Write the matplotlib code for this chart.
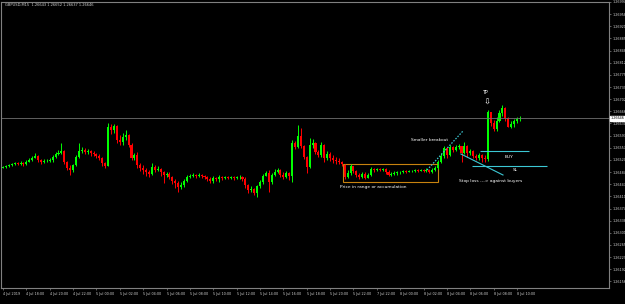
import matplotlib
matplotlib.use("Agg")
import matplotlib.pyplot as plt
from matplotlib.patches import Rectangle
from matplotlib.transforms import blended_transform_factory
import numpy as np

# GBPUSD M15 candles (prices)
first_open = 1.26496
close = [
    1.26499, 1.26502, 1.26505, 1.26508, 1.26511, 1.26508, 1.26511, 1.26508, 1.26514, 1.26520,
    1.26526, 1.26532, 1.26520, 1.26514, 1.26517, 1.26517, 1.26520, 1.26529, 1.26538, 1.26541,
    1.26547, 1.26514, 1.26496, 1.26490, 1.26505, 1.26529, 1.26547, 1.26550, 1.26544, 1.26547,
    1.26541, 1.26538, 1.26532, 1.26526, 1.26511, 1.26502, 1.26619, 1.26610, 1.26622, 1.26580,
    1.26574, 1.26589, 1.26595, 1.26565, 1.26526, 1.26535, 1.26505, 1.26496, 1.26490, 1.26484,
    1.26478, 1.26499, 1.26490, 1.26493, 1.26484, 1.26475, 1.26478, 1.26469, 1.26457, 1.26451,
    1.26439, 1.26445, 1.26457, 1.26469, 1.26472, 1.26475, 1.26472, 1.26475, 1.26472, 1.26469,
    1.26463, 1.26457, 1.26466, 1.26463, 1.26469, 1.26466, 1.26469, 1.26466, 1.26469, 1.26466,
    1.26469, 1.26469, 1.26463, 1.26445, 1.26430, 1.26433, 1.26421, 1.26442, 1.26454, 1.26472,
    1.26481, 1.26454, 1.26475, 1.26484, 1.26490, 1.26475, 1.26469, 1.26481, 1.26472, 1.26571,
    1.26559, 1.26592, 1.26562, 1.26529, 1.26499, 1.26565, 1.26571, 1.26544, 1.26535, 1.26565,
    1.26526, 1.26538, 1.26526, 1.26520, 1.26517, 1.26514, 1.26508, 1.26469, 1.26481, 1.26502,
    1.26487, 1.26475, 1.26469, 1.26478, 1.26466, 1.26475, 1.26493, 1.26490, 1.26493, 1.26490,
    1.26493, 1.26484, 1.26475, 1.26478, 1.26481, 1.26484, 1.26484, 1.26487, 1.26484, 1.26487,
    1.26487, 1.26490, 1.26487, 1.26490, 1.26487, 1.26490, 1.26484, 1.26490, 1.26496, 1.26514,
    1.26532, 1.26556, 1.26535, 1.26559, 1.26550, 1.26559, 1.26562, 1.26541, 1.26562, 1.26541,
    1.26547, 1.26532, 1.26526, 1.26535, 1.26526, 1.26523, 1.26664, 1.26631, 1.26613, 1.26637,
    1.26661, 1.26676, 1.26646, 1.26619, 1.26628, 1.26637, 1.26643, 1.26646,
]
high = [
    1.26502, 1.26505, 1.26508, 1.26511, 1.26514, 1.26514, 1.26517, 1.26514, 1.26520, 1.26526,
    1.26532, 1.26541, 1.26535, 1.26523, 1.26523, 1.26523, 1.26526, 1.26535, 1.26544, 1.26550,
    1.26571, 1.26550, 1.26517, 1.26505, 1.26508, 1.26535, 1.26571, 1.26559, 1.26556, 1.26553,
    1.26550, 1.26547, 1.26541, 1.26538, 1.26529, 1.26514, 1.26631, 1.26628, 1.26628, 1.26625,
    1.26595, 1.26601, 1.26610, 1.26598, 1.26571, 1.26541, 1.26544, 1.26511, 1.26505, 1.26496,
    1.26490, 1.26511, 1.26505, 1.26502, 1.26496, 1.26487, 1.26484, 1.26484, 1.26472, 1.26463,
    1.26457, 1.26454, 1.26463, 1.26475, 1.26478, 1.26481, 1.26478, 1.26481, 1.26478, 1.26475,
    1.26472, 1.26469, 1.26472, 1.26469, 1.26475, 1.26472, 1.26472, 1.26472, 1.26472, 1.26472,
    1.26472, 1.26475, 1.26472, 1.26469, 1.26448, 1.26442, 1.26436, 1.26445, 1.26460, 1.26478,
    1.26487, 1.26490, 1.26481, 1.26493, 1.26496, 1.26493, 1.26484, 1.26487, 1.26484, 1.26580,
    1.26577, 1.26625, 1.26616, 1.26565, 1.26532, 1.26586, 1.26583, 1.26574, 1.26550, 1.26574,
    1.26568, 1.26547, 1.26544, 1.26535, 1.26529, 1.26526, 1.26517, 1.26508, 1.26490, 1.26508,
    1.26502, 1.26490, 1.26481, 1.26484, 1.26484, 1.26481, 1.26499, 1.26496, 1.26496, 1.26496,
    1.26496, 1.26496, 1.26490, 1.26484, 1.26487, 1.26487, 1.26487, 1.26490, 1.26490, 1.26490,
    1.26490, 1.26493, 1.26493, 1.26493, 1.26493, 1.26496, 1.26493, 1.26496, 1.26502, 1.26520,
    1.26541, 1.26562, 1.26559, 1.26565, 1.26562, 1.26565, 1.26568, 1.26562, 1.26574, 1.26565,
    1.26553, 1.26550, 1.26538, 1.26541, 1.26538, 1.26535, 1.26670, 1.26664, 1.26640, 1.26649,
    1.26670, 1.26685, 1.26679, 1.26649, 1.26637, 1.26643, 1.26649, 1.26652,
]
low = [
    1.26496, 1.26496, 1.26499, 1.26502, 1.26505, 1.26505, 1.26505, 1.26502, 1.26505, 1.26514,
    1.26517, 1.26526, 1.26514, 1.26508, 1.26511, 1.26514, 1.26514, 1.26514, 1.26526, 1.26535,
    1.26538, 1.26508, 1.26490, 1.26475, 1.26484, 1.26502, 1.26526, 1.26541, 1.26538, 1.26538,
    1.26532, 1.26532, 1.26526, 1.26520, 1.26502, 1.26496, 1.26502, 1.26598, 1.26601, 1.26571,
    1.26565, 1.26565, 1.26580, 1.26559, 1.26520, 1.26520, 1.26496, 1.26487, 1.26478, 1.26472,
    1.26469, 1.26475, 1.26484, 1.26487, 1.26472, 1.26451, 1.26469, 1.26463, 1.26448, 1.26436,
    1.26424, 1.26433, 1.26439, 1.26454, 1.26466, 1.26469, 1.26466, 1.26469, 1.26466, 1.26463,
    1.26457, 1.26451, 1.26451, 1.26457, 1.26454, 1.26460, 1.26463, 1.26463, 1.26463, 1.26460,
    1.26463, 1.26463, 1.26457, 1.26436, 1.26421, 1.26424, 1.26415, 1.26409, 1.26436, 1.26448,
    1.26472, 1.26424, 1.26448, 1.26472, 1.26481, 1.26469, 1.26463, 1.26466, 1.26460, 1.26454,
    1.26553, 1.26556, 1.26556, 1.26523, 1.26481, 1.26496, 1.26556, 1.26538, 1.26529, 1.26529,
    1.26514, 1.26520, 1.26517, 1.26511, 1.26508, 1.26508, 1.26502, 1.26463, 1.26466, 1.26475,
    1.26481, 1.26469, 1.26463, 1.26466, 1.26463, 1.26466, 1.26472, 1.26484, 1.26487, 1.26487,
    1.26487, 1.26478, 1.26472, 1.26472, 1.26475, 1.26475, 1.26478, 1.26481, 1.26481, 1.26484,
    1.26484, 1.26484, 1.26484, 1.26487, 1.26484, 1.26484, 1.26481, 1.26481, 1.26487, 1.26493,
    1.26511, 1.26526, 1.26526, 1.26532, 1.26544, 1.26547, 1.26553, 1.26514, 1.26538, 1.26529,
    1.26535, 1.26526, 1.26520, 1.26520, 1.26514, 1.26514, 1.26517, 1.26622, 1.26607, 1.26607,
    1.26634, 1.26652, 1.26637, 1.26619, 1.26616, 1.26619, 1.26631, 1.26637,
]

time_labels = [
    "4 Jul 2019", "4 Jul 18:00", "4 Jul 20:00", "4 Jul 22:00", "5 Jul 00:00", "5 Jul 02:00",
    "5 Jul 04:00", "5 Jul 06:00", "5 Jul 08:00", "5 Jul 10:00", "5 Jul 12:00", "5 Jul 14:00",
    "5 Jul 16:00", "5 Jul 18:00", "5 Jul 20:00", "5 Jul 22:00", "7 Jul 22:00", "8 Jul 00:00",
    "8 Jul 02:00", "8 Jul 04:00", "8 Jul 06:00", "8 Jul 08:00", "8 Jul 10:00",
]
bars_per_label = 8

# trade setup drawn on the chart
range_first_bar, range_last_bar = 116.5, 149.0
range_top, range_bottom = 1.26508, 1.26454
breakout_from = (145.2, 1.26490)
breakout_to = (157.5, 1.26607)
buy_level, buy_bars = 1.26547, (163.4, 180.1)
sl_level, sl_bars = 1.26502, (160.6, 186.3)
sl_trend_from = (156.8, 1.26538)
sl_trend_to = (171.2, 1.26475)
tp_bar, tp_price = 165.5, 1.26724

close = np.array(close)
high = np.array(high)
low = np.array(low)
opens = np.r_[first_open, close[:-1]]
high = np.maximum(high, np.maximum(opens, close))
low = np.minimum(low, np.minimum(opens, close))
x = np.arange(len(close))

BG = "black"
GRID = "#808080"
TXT = "#d0d0d0"
CYAN = "#3cc8d4"

fig = plt.figure(figsize=(6.25, 3.04), dpi=100, facecolor=BG)
ax = fig.add_axes([1 / 625, 16 / 304, 608 / 625, 286 / 304])
ax.set_facecolor(BG)

up = close >= opens
colors = np.where(up, "#00ff00", "#ff0000")
ax.vlines(x, low, high, colors=colors, linewidth=0.7)
body = np.maximum(np.abs(close - opens), 0.000012)
ax.bar(x, body, bottom=np.minimum(opens, close), width=0.7, color=colors, linewidth=0)

# current price line + label
last = close[-1]
ax.axhline(last, color="#707070", lw=0.6)
trans = blended_transform_factory(ax.transAxes, ax.transData)
ax.text(1.003, last, f"{last:.5f}", transform=trans, fontsize=2.4, color="black",
        va="center", ha="left",
        bbox=dict(boxstyle="square,pad=0.15", facecolor="white", edgecolor="white"))

# annotations
ax.add_patch(Rectangle((range_first_bar, range_bottom), range_last_bar - range_first_bar,
                       range_top - range_bottom, fill=False, edgecolor="#c8820f", lw=0.8))
ax.text(range_first_bar - 1, range_bottom - 0.00015, "Price in range or accumulation",
        color="white", fontsize=3.2, ha="left", va="center")
ax.plot([breakout_from[0], breakout_to[0]], [breakout_from[1], breakout_to[1]],
        color=CYAN, lw=0.9, ls=(0, (1.2, 1.2)))
ax.text(145.9, 1.26580, "Smaller breakout", color="white", fontsize=3.2, ha="center", va="center")
ax.hlines(buy_level, *buy_bars, color=CYAN, lw=0.8)
ax.hlines(sl_level, *sl_bars, color=CYAN, lw=0.8)
ax.plot([sl_trend_from[0], sl_trend_to[0]], [sl_trend_from[1], sl_trend_to[1]], color=CYAN, lw=0.8)
ax.text(173.3, buy_level - 0.00018, "BUY", color="white", fontsize=3.2, ha="center", va="center")
ax.text(175.3, sl_level - 0.00012, "SL", color="white", fontsize=3.2, ha="center", va="center")
ax.text(166.8, 1.26457, "Stop loss ---> against buyers", color="white", fontsize=3.2,
        ha="center", va="center")
ax.text(tp_bar, tp_price, "TP", color="white", fontsize=3.4, ha="center", va="center")
ax.text(tp_bar + 0.3, tp_price - 0.00031, "\u21e9", color="white", fontsize=6,
        ha="center", va="center", family="DejaVu Sans")

# axes styling
ax.set_xlim(-0.685, 207.5)
ax.set_ylim(1.26136, 1.26994)
for s in ax.spines.values():
    s.set_color(GRID)
    s.set_linewidth(0.8)

ax.yaxis.tick_right()
yt = 1.26994 - 0.0003645 * np.arange(24)
ax.set_yticks(yt)
ax.set_yticklabels([f"{v:.5f}" for v in yt])
ax.tick_params(axis="y", colors=GRID, labelcolor=TXT, labelsize=2.4, length=1.5, width=0.5, pad=1)

xt = np.arange(len(time_labels)) * bars_per_label
ax.set_xticks(xt)
ax.set_xticklabels(time_labels, ha="left")
ax.tick_params(axis="x", colors=GRID, labelcolor=TXT, labelsize=2.4, length=1.5, width=0.5, pad=1.5)

fig.text(5 / 625, 1 - 5 / 304, "GBPUSD,M15  1.26643 1.26652 1.26637 1.26646",
         color=TXT, fontsize=2.6, ha="left", va="center")

fig.savefig("out.png", dpi=100, facecolor=BG)
